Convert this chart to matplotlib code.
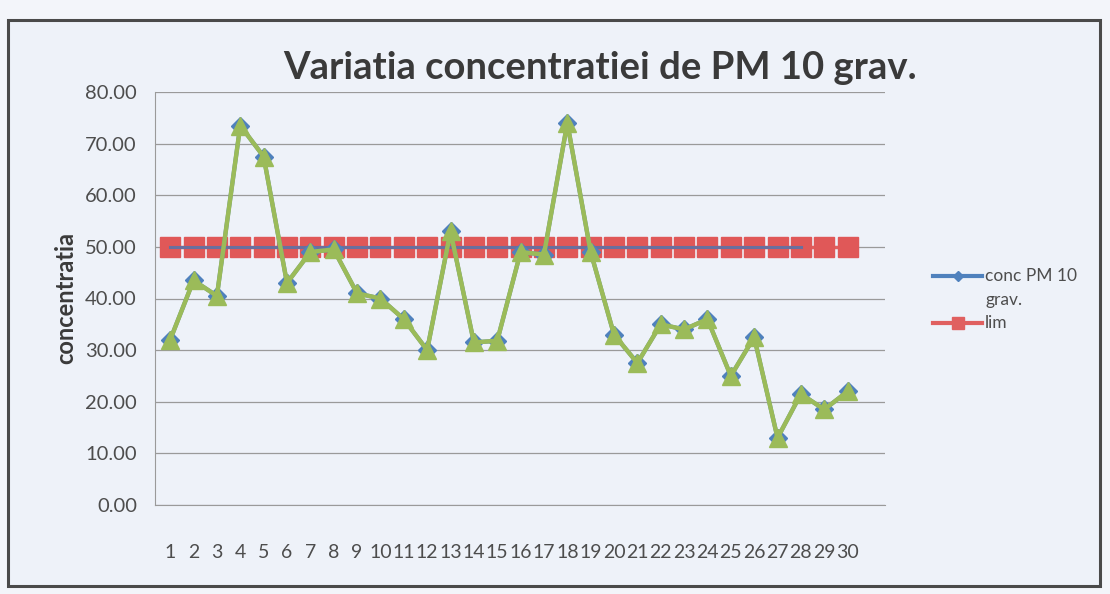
import matplotlib
matplotlib.use("Agg")
import matplotlib.pyplot as plt
from matplotlib.lines import Line2D
from matplotlib.patches import Rectangle

days = list(range(1, 31))
conc = [32.0, 43.5, 40.5, 73.5, 67.5, 43.0, 49.0, 49.5, 41.0, 40.0,
        36.0, 30.0, 53.0, 31.5, 31.8, 49.0, 48.5, 74.0, 49.0, 33.0,
        27.5, 35.0, 34.0, 36.0, 25.0, 32.5, 13.0, 21.5, 18.5, 22.0]
lim = [50.0] * 30
lim_line_days = list(range(1, 29))
lim_line = [50.0] * 28
yticks = [0, 10, 20, 30, 40, 50, 60, 70, 80]

title = "Variatia concentratiei de PM 10 grav."
ylabel = "concentratia"
legend_labels = ["conc PM 10\ngrav.", "lim"]

plt.rcParams['font.family'] = ['Lato', 'DejaVu Sans']

fig = plt.figure(figsize=(11.10, 5.94), dpi=100, facecolor="#f3f5fa")
fig.patches.append(Rectangle((8/1110, 1 - 586/594), 1092/1110, 566/594,
                             transform=fig.transFigure, facecolor="#eef2f9",
                             edgecolor="#4a4a4a", linewidth=2.2, zorder=-10))

ax = fig.add_axes([155/1110, 1 - 505/594, 730/1110, 413/594])
ax.set_zorder(5)
ax.patch.set_alpha(0)

for v in yticks:
    ax.axhline(v, color="#9a9a9a", lw=0.9, zorder=1)

ax.plot(days, lim, color="#e06060", lw=2.5, marker="s", markersize=15,
        markerfacecolor="#e05858", markeredgecolor="#e05858", zorder=2)
ax.plot(lim_line_days, lim_line, color="#6a6f9e", lw=2.2, zorder=3)
ax.plot(days, conc, color="#4f81bd", lw=3, marker="D", markersize=9,
        markerfacecolor="#4f81bd", markeredgecolor="#4f81bd", zorder=4)
ax.plot(days, conc, color="#9bbb59", lw=3.2, marker="^", markersize=13,
        markerfacecolor="#9bbb59", markeredgecolor="#9bbb59", zorder=5)

ax.set_xlim(0.35, 31.6)
ax.set_ylim(0, 80)
ax.set_yticks(yticks)
ax.set_yticklabels([f"{v:.2f}" for v in yticks], fontsize=14.5, color="#4d4d4d")
ax.set_xticks(days)
ax.set_xticklabels([str(d) for d in days], fontsize=14, color="#4d4d4d")
ax.tick_params(axis="both", length=0)
ax.tick_params(axis="x", pad=28)
ax.tick_params(axis="y", pad=13)
for s in ["top", "right"]:
    ax.spines[s].set_visible(False)
ax.spines["bottom"].set_color("#9a9a9a")
ax.spines["left"].set_color("#9a9a9a")
ax.set_ylabel(ylabel, fontsize=17, fontweight="bold", color="#3a3a3a", labelpad=6)

fig.text(600/1110, 1 - 68/594, title, ha="center", va="center",
         fontsize=27.5, fontweight="bold", color="#3a3a3a")

# legend drawn manually so the handles align with the first text line
leg_items = [("#4f81bd", "D", 5.5, 276), ("#e06060", "s", 9, 323)]
for (col, mk, ms, ypix), lab in zip(leg_items, legend_labels):
    yf = 1 - ypix / 594
    fig.add_artist(Line2D([933/1110, 982/1110], [yf, yf], transform=fig.transFigure,
                          color=col, lw=3))
    fig.add_artist(Line2D([957.5/1110], [yf], transform=fig.transFigure,
                          color=col, marker=mk, markersize=ms, lw=0))
    lines = lab.split("\n")
    for i, part in enumerate(lines):
        fig.text(985/1110, 1 - (ypix + 24 * i) / 594, part, ha="left",
                 va="center", fontsize=12.5, color="#4d4d4d")

fig.savefig("out.png", dpi=100, facecolor=fig.get_facecolor())
